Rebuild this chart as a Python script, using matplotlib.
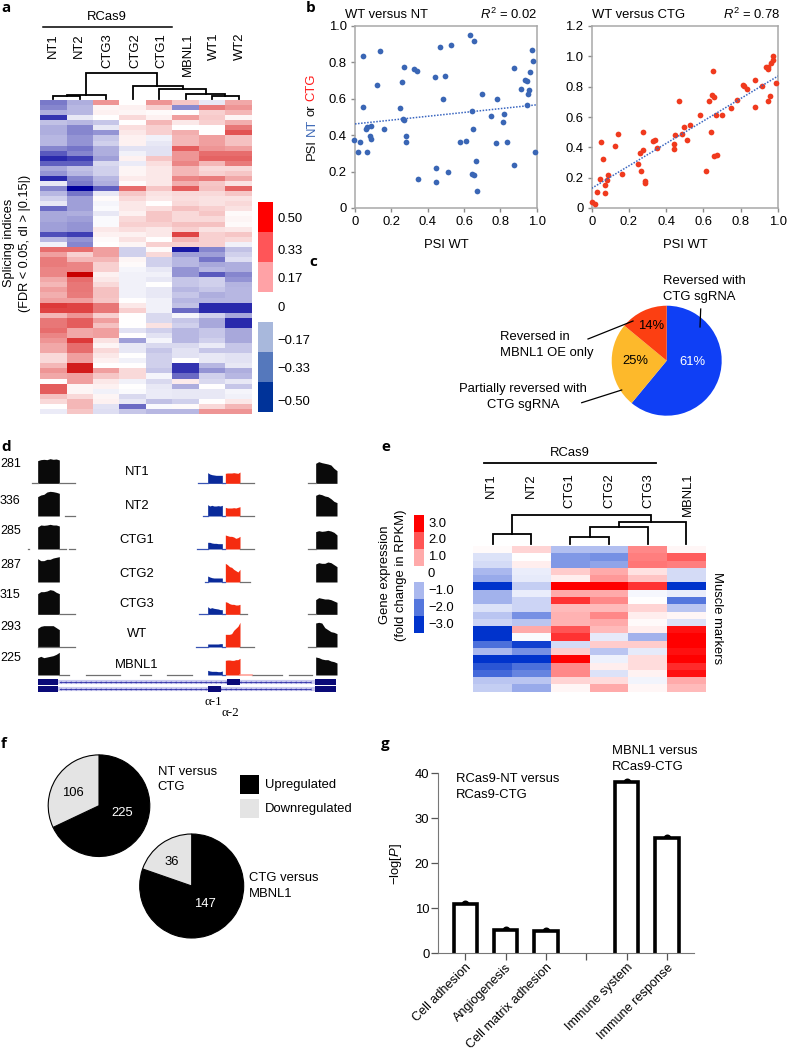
import numpy as np
import matplotlib
matplotlib.use("Agg")
import matplotlib.pyplot as plt
from matplotlib.colors import LinearSegmentedColormap, ListedColormap

W = 787
H = 1050
plt.rcParams["font.family"] = ["Liberation Sans", "DejaVu Sans"]
plt.rcParams["mathtext.fontset"] = "custom"
plt.rcParams["mathtext.rm"] = "Liberation Sans"
plt.rcParams["mathtext.it"] = "Liberation Sans:italic"
FS = 9.4

# panel a
SPLICE_COLS = ["NT1", "NT2", "CTG3", "CTG2", "CTG1", "MBNL1", "WT1", "WT2"]
SPLICE = [
    [-.27, -.17, .22, .0, .22, .12, -.05, .18],
    [-.25, -.15, .02, .03, .1, -.24, .27, .22],
    [-.17, -.15, .03, .02, .01, .0, .1, .15],
    [-.4, -.05, .0, .08, .03, .2, .11, .02],
    [-.13, -.15, -.12, .0, .15, .05, .1, .17],
    [-.17, -.25, -.05, .07, .1, .0, .0, .28],
    [-.17, -.25, -.22, .05, .1, .17, .0, .35],
    [-.15, -.22, -.12, .03, -.03, .15, .2, .13],
    [-.15, -.22, -.1, .03, -.05, .15, .2, .13],
    [-.25, -.28, -.17, -.06, -.06, .33, .22, .2],
    [-.33, -.25, -.17, -.03, -.06, .22, .3, .3],
    [-.42, -.38, -.2, .03, .12, .22, .32, .32],
    [-.32, -.32, -.08, -.04, .07, .25, .15, .27],
    [-.18, -.13, -.1, .02, .05, .15, .08, .08],
    [-.22, -.15, -.1, .02, .05, .15, .1, .12],
    [-.42, -.25, -.15, .04, .05, .25, .27, .18],
    [-.05, -.27, -.17, .01, .05, .17, .12, .06],
    [-.25, -.5, -.32, .3, .12, .33, .13, .32],
    [-.15, -.28, -.05, .12, .06, .08, .08, .12],
    [-.1, -.2, .01, .08, .05, .07, .06, .06],
    [-.05, -.2, -.02, .05, .0, .08, .06, .08],
    [-.3, -.2, -.01, .05, .07, .13, .1, .06],
    [-.18, -.17, -.05, .03, .12, .08, .12, .01],
    [-.18, -.2, -.01, .08, .12, .08, .08, .02],
    [-.2, -.22, -.01, .1, .1, .13, .13, .01],
    [-.2, -.22, .05, .07, .05, .1, .06, .05],
    [-.35, -.38, .03, .03, .05, .38, .1, .12],
    [-.15, -.22, .01, .06, .0, .15, .1, .08],
    [-.03, -.25, .0, .02, .1, .1, .1, -.03],
    [.3, .3, .2, -.1, .01, -.45, -.25, -.13],
    [.2, .1, .2, -.1, .08, -.2, -.2, -.1],
    [.27, .15, .15, .02, -.1, -.15, -.28, -.07],
    [.27, .25, .1, .01, -.1, -.15, -.18, -.17],
    [.25, .25, .1, -.02, -.05, -.22, -.15, -.17],
    [.25, .5, .03, -.03, -.03, -.22, -.33, -.25],
    [.18, .3, .05, -.03, -.05, -.12, -.1, -.22],
    [.15, .28, .08, -.03, .0, -.12, -.1, -.16],
    [.2, .28, .13, -.03, -.05, -.15, -.12, -.15],
    [.17, .27, .13, -.03, -.05, -.12, -.17, -.15],
    [.2, .2, .12, .0, -.03, -.15, -.15, -.15],
    [.4, .38, .28, .05, -.03, -.13, -.42, -.42],
    [.38, .38, .28, .1, -.03, -.3, -.42, -.42],
    [.15, .22, .1, .0, -.08, -.02, -.1, -.18],
    [.28, .33, .2, .0, -.08, -.12, -.18, -.42],
    [.28, .33, .13, .0, .06, -.1, -.18, -.42],
    [.3, .18, .2, -.06, -.1, -.15, -.12, -.18],
    [.25, .18, .2, .0, -.06, -.15, -.12, -.18],
    [.22, .4, .06, -.2, -.02, -.15, -.1, -.18],
    [.18, .3, .02, -.05, -.08, -.08, -.04, -.12],
    [.18, .3, .08, -.05, -.12, -.06, -.12, -.12],
    [.08, .2, .05, .0, -.1, -.06, -.05, -.06],
    [.08, .2, .03, -.03, -.1, .0, -.05, -.06],
    [.15, .45, .0, .0, -.1, -.4, -.15, -.05],
    [.22, .45, .2, .08, -.12, -.4, -.22, -.17],
    [.18, .2, .12, .08, -.02, -.3, -.1, -.15],
    [.0, .2, .05, -.03, -.08, .04, -.08, -.05],
    [.33, .02, .03, .0, -.05, -.17, .0, -.12],
    [.33, .02, -.03, -.01, -.04, -.05, -.05, -.02],
    [.13, .08, .02, -.08, -.04, -.05, -.05, -.03],
    [.08, .15, .03, -.05, -.13, -.1, .0, .05],
    [.0, .15, -.06, -.3, -.01, .01, .08, .15],
    [-.04, .12, -.07, -.12, -.15, -.15, .22, .22],
]
SPLICE_LEVEL_LABELS = ["0.50", "0.33", "0.17", "0", "\u22120.17", "\u22120.33", "\u22120.50"]
SPLICE_LEVEL_COLORS = ["#ff0000", "#ff5558", "#ffa2a6", "#ffffff", "#a8b8dc", "#5578bc", "#003399"]
# (left x, right x, left height, right height, top)
SPLICE_TREE = [
    (.5, 1.5, 1.3, 1.3, 4), (1.0, 2.5, 4, 1.3, 5.3), (6.5, 7.5, 1.3, 1.3, 4),
    (5.5, 7.0, 1.3, 4, 6.3), (4.5, 6.25, 1.3, 6.3, 10.7), (3.5, 5.4, 1.3, 10.7, 13.7),
    (1.73, 4.4, 5.3, 13.7, 27),
]

# panel b
NT_X = [-.004, .015, .028, .068, .045, .042, .06, .068, .086, .08, .086, .121, .14, .158, .246, .259,
        .272, .264, .27, .283, .283, .323, .339, .349, .442, .444, .446, .468, .486, .495, .514, .53,
        .58, .609, .633, .646, .642, .653, .653, .651, .666, .67, .70, .75, .782, .778, .813, .822,
        .837, .877, .875, .916, .936, .945, .949, .95, .956, .963, .974, .978, .991]
NT_Y = [.373, .31, .362, .305, .835, .554, .435, .446, .45, .395, .378, .678, .861, .435, .548, .695,
        .773, .488, .483, .395, .362, .762, .751, .161, .722, .221, .144, .887, .601, .726, .196, .898,
        .362, .367, .949, .534, .186, .181, .918, .435, .258, .093, .627, .503, .601, .356, .472, .514,
        .362, .768, .238, .654, .706, .70, .565, .627, .649, .748, .870, .81, .305]
NT_FIT = [.462, .567]
CTG_X = [0, .018, .03, .05, .046, .0625, .071, .071, .0875, .084, .125, .143, .16, .248, .26, .273,
         .273, .266, .286, .286, .327, .341, .35, .443, .443, .446, .468, .486, .496, .514, .53, .58,
         .611, .632, .641, .646, .654, .652, .654, .67, .666, .70, .75, .779, .8125, .82, .836, .875,
         .877, .914, .934, .946, .948, .948, .955, .96, .973, .975, .9875]
CTG_Y = [.037, .024, .107, .432, .193, .325, .154, .10, .219, .186, .406, .487, .226, .289, .362, .382,
         .50, .243, .18, .164, .443, .45, .395, .423, .388, .482, .704, .487, .533, .45, .544, .612,
         .243, .706, .50, .743, .732, .90, .34, .351, .612, .612, .662, .713, .814, .803, .787, .669,
         .844, .807, .93, .932, .917, .706, .739, .954, 1.0, .974, .825]
CTG_FIT = [.13, .87]

# panel c
CLASS_SHARE = [61, 25, 14]
CLASS_COLORS = ["#0f3ff5", "#fdb92b", "#fc3f12"]

# panel d, read heights of the coverage tracks
TRACK_NAMES = ["NT1", "NT2", "CTG1", "CTG2", "CTG3", "WT", "MBNL1"]
TRACK_SCALE = [281, 336, 285, 287, 315, 293, 225]
EXON_LEFT = [
    [68, 71, 72, 71, 74, 72, 73, 70], [58, 63, 65, 72, 74, 73, 71, 68], [66, 72, 71, 72, 74, 72, 72, 69],
    [70, 64, 64, 68, 68, 72, 74, 76], [62, 68, 68, 70, 74, 72, 66, 62], [56, 62, 64, 64, 64, 64, 58, 52],
    [52, 56, 52, 54, 56, 58, 62, 68],
]
EXON_RIGHT = [
    [60, 65, 62, 60, 58, 55, 45, 38], [62, 66, 64, 60, 58, 52, 44, 40], [52, 55, 53, 54, 56, 54, 50, 42],
    [54, 58, 56, 56, 60, 58, 52, 46], [44, 50, 48, 46, 46, 44, 40, 36], [72, 74, 72, 58, 52, 46, 44, 40],
    [54, 52, 48, 46, 46, 42, 40, 36],
]
EXON_ALPHA1 = [
    [32, 28, 26, 25, 24, 24, 24, 24], [34, 30, 32, 30, 30, 31, 30, 32], [20, 20, 18, 17, 17, 16, 16, 16],
    [18, 15, 13, 12, 12, 12, 12, 12], [23, 18, 20, 18, 17, 16, 14, 14], [9, 9, 9, 9, 9, 9, 10, 10],
    [14, 12, 11, 11, 11, 10, 10, 12],
]
EXON_ALPHA2 = [
    [30, 31, 31, 31, 32, 31, 30, 34], [26, 24, 24, 24, 25, 24, 26, 28], [42, 40, 38, 38, 36, 32, 34, 38],
    [56, 52, 46, 44, 38, 34, 30, 38], [38, 36, 32, 30, 30, 28, 28, 30], [38, 38, 38, 40, 50, 56, 62, 74],
    [44, 45, 45, 44, 44, 46, 46, 50],
]

# panel e
EXPR_COLS = ["NT1", "NT2", "CTG1", "CTG2", "CTG3", "MBNL1"]
EXPR = [
    [.05, .5, -.9, -.9, 1.4, .1],
    [-.4, .02, -1.5, -1.6, 1.5, 1.9],
    [-.5, .2, -1.5, -1.3, 1.6, 1.5],
    [-1.0, -.25, .6, 1.0, .35, -.5],
    [-1.2, -.3, .2, 1.2, .7, -.5],
    [-3, -.7, 3, 3, 2.4, -3],
    [-1.1, -.25, 1.0, 1.0, -.1, -.25],
    [-1.1, -.6, 2.4, 1.4, .02, -2],
    [-.4, -.6, .8, .8, .5, -.8],
    [-.8, -1.6, .9, 1.4, .2, .1],
    [-.6, -.8, .9, 1.0, .05, -.4],
    [-3, 1.0, 2.0, .8, .2, 2.8],
    [-3, -.05, 2.4, -.3, -1.1, 3],
    [-2.1, -2.8, -.5, .6, .6, 3],
    [-1.0, -1.6, .6, -.8, -.3, 2.8],
    [-3, -3, 3, -.2, .4, 3],
    [-2.5, -2.1, 1.4, .2, .4, 2.5],
    [-2.2, -1.8, 1.4, -.4, .15, 2.8],
    [-.8, -.8, .5, .4, -.15, 1.0],
    [-.7, -1.2, .1, 1.0, .1, .8],
]
EXPR_LEVEL_LABELS = ["3.0", "2.0", "1.0", "0", "\u22121.0", "\u22122.0", "\u22123.0"]
EXPR_LEVEL_COLORS = ["#ff0000", "#ff5555", "#ffaaaa", "#ffffff", "#aab8ee", "#5577dd", "#0033cc"]
EXPR_TREE = [
    (.5, 1.5, 2, 2, 12), (2.5, 3.5, 2, 2, 9.3), (3.0, 4.5, 9.3, 2, 18.7),
    (3.75, 5.5, 18.7, 2, 24), (1.0, 4.6, 12, 24, 31.3),
]

# panel f
REG_LABELS = ["Upregulated", "Downregulated"]
REG_COLORS = ["#000000", "#e4e4e4"]
NT_VS_CTG = [225, 106]
CTG_VS_MBNL1 = [147, 36]

# panel g
TERMS = ["Cell adhesion", "Angiogenesis", "Cell matrix adhesion", "", "Immune system", "Immune response"]
LOG_P = [10.9, 5.1, 5.0, 0, 38.0, 25.7]


def px_axes(x0, y0, x1, y1):
    return fig.add_axes([x0 / W, 1 - y1 / H, (x1 - x0) / W, (y1 - y0) / H])


def draw_tree(box, n_cols, links):
    ax = px_axes(*box)
    ax.set_xlim(0, n_cols)
    ax.set_ylim(0, box[3] - box[1])
    ax.axis("off")
    for xl, xr, yl, yr, top in links:
        ax.plot([xl, xl, xr, xr], [yl, top, top, yr], color="black", lw=1.3, solid_joinstyle="miter")


def draw_levels(box, colors):
    ax = px_axes(*box)
    ax.pcolormesh(np.arange(len(colors))[:, None], cmap=ListedColormap(colors))
    ax.invert_yaxis()
    ax.axis("off")


def draw_scatter(box, xs, ys, fit, color, ymax, yticks):
    ax = px_axes(*box)
    ax.scatter(xs, ys, s=17, color=color, linewidths=0, clip_on=False, zorder=3)
    ax.plot([0, 1], fit, color="#3a66c0", lw=1.1, ls=(0, (1, 1)), zorder=4)
    ax.set_xlim(0, 1)
    ax.set_ylim(0, ymax)
    ax.set_xticks([0, .2, .4, .6, .8, 1.0], ["0", "0.2", "0.4", "0.6", "0.8", "1.0"])
    ax.set_yticks(yticks, ["0" if t == 0 else f"{t:.1f}" for t in yticks])
    ax.tick_params(labelsize=FS, length=3, width=1, color="#8c8c8c", pad=3)
    for s in ax.spines.values():
        s.set_color("#a8a8a8")
        s.set_linewidth(1.1)
    return ax


def draw_pie(cx, cy, r, values, colors, edge=None):
    ax = px_axes(cx - r, cy - r, cx + r, cy + r)
    wedge = {"linewidth": 0.8, "edgecolor": edge} if edge else {"linewidth": 0}
    ax.pie(values, colors=colors, startangle=90, counterclock=False, radius=1, wedgeprops=wedge)
    ax.set_xlim(-1, 1)
    ax.set_ylim(-1, 1)
    for p in ax.patches:
        p.set_clip_on(False)


fig = plt.figure(figsize=(W / 100, H / 100), dpi=100)

# a
ax = px_axes(40, 100, 252, 414)
cmap_a = LinearSegmentedColormap.from_list(
    "splice", [(0, "#00009c"), (.1, "#3434b0"), (.3, "#a0a0d8"), (.5, "#ffffff"),
               (.7, "#f0a0a0"), (.9, "#dd3a3a"), (1, "#c80000")])
ax.pcolormesh(np.array(SPLICE), cmap=cmap_a, vmin=-.5, vmax=.5)
ax.invert_yaxis()
ax.axis("off")
draw_tree((40, 72, 252, 100), len(SPLICE_COLS), SPLICE_TREE)
draw_levels((258, 202, 273, 412), SPLICE_LEVEL_COLORS)

# b
ax_nt = draw_scatter((355, 26, 536.7, 208), NT_X, NT_Y, NT_FIT, "#3a66b5", 1.0, [0, .2, .4, .6, .8, 1.0])
ax_ctg = draw_scatter((591.7, 26, 778, 208), CTG_X, CTG_Y, CTG_FIT, "#f03a1e", 1.2,
                      [0, .2, .4, .6, .8, 1.0, 1.2])

# c
draw_pie(666.7, 360.7, 55, CLASS_SHARE, CLASS_COLORS)

# d
ax_d = px_axes(0, 430, 380, 730)
ax_d.set_xlim(0, 1140)
ax_d.set_ylim(900, 0)
ax_d.axis("off")
track_base = [160, 258, 357, 456, 553, 651, 735]
gray_lines = [
    [(95, 113), (178, 225), (720, 762), (925, 947)],
    [(195, 225), (720, 762)],
    [(83, 88), (178, 198), (207, 225), (720, 762), (925, 947)],
    [(720, 750)],
    [(178, 225), (720, 740), (925, 947)],
    [(113, 225), (720, 762), (925, 947)],
    [(178, 208), (257, 360), (420, 452), (502, 575), (757, 847), (867, 937)],
]
blue_start = [593, 610, 590, 615, 597, 587, 623]
exons = [(113, 178, EXON_LEFT, "#0a0a0a"), (623, 667, EXON_ALPHA1, "#0a2a9a"),
         (676, 720, EXON_ALPHA2, "#f52c10"), (947, 1011, EXON_RIGHT, "#0a0a0a")]
for i, base in enumerate(track_base):
    for a, b in gray_lines[i]:
        ax_d.plot([a, b], [base, base], color="#707070", lw=.9)
    ax_d.plot([blue_start[i], 623], [base, base], color="#3a55b5", lw=.9)
    ax_d.plot([667, 676], [base, base], color="#3a55b5", lw=.9)
    for x0, x1, heights, col in exons:
        h = np.array(heights[i], dtype=float)
        xs = np.linspace(x0, x1, len(h))
        ax_d.fill_between(xs, base - h, base, color=col, lw=0)
ax_d.plot([720, 757], [735, 735], color="#ff9a90", lw=1.1)
# gene model
for row, small in ((755, (680, 720)), (776, (623, 663))):
    ax_d.plot([175, 945], [row, row], color="#c9c9ee", lw=3, solid_capstyle="butt", zorder=1)
    ax_d.plot(np.arange(180, 945, 15), [row] * 51, color="#3333aa", lw=.6, marker="<", ms=1.6, mew=0, zorder=2)
    for a, b in ((115, 175), (945, 1008), small):
        ax_d.fill_between([a, b], row - 9, row + 9, color="#0a0a78", lw=0, zorder=3)

# e
ax = px_axes(473.3, 546, 705.7, 691.7)
cmap_e = LinearSegmentedColormap.from_list(
    "expr", [(0, "#0033cc"), (1 / 6, "#5577dd"), (2 / 6, "#aab8ee"), (.5, "#ffffff"),
             (4 / 6, "#ffaaaa"), (5 / 6, "#ff5555"), (1, "#ff0000")])
ax.pcolormesh(np.array(EXPR), cmap=cmap_e, vmin=-3, vmax=3)
ax.invert_yaxis()
ax.axis("off")
draw_tree((473.3, 510, 705.7, 546), len(EXPR_COLS), EXPR_TREE)
draw_levels((414, 515, 423.7, 633), EXPR_LEVEL_COLORS)

# f
draw_pie(99, 805.7, 50.8, NT_VS_CTG, REG_COLORS, "black")
draw_pie(191.7, 886, 52, CTG_VS_MBNL1, REG_COLORS, "black")

# g
ax_g = px_axes(438.3, 773.3, 694.3, 953)
pos = np.arange(len(LOG_P))
vals = np.array(LOG_P)
shown = vals > 0
# bars start under the axis so that their lower edge is clipped away
ax_g.bar(pos[shown], vals[shown] + 3, bottom=-3, width=.58, facecolor="white", edgecolor="black", linewidth=2.6)
ax_g.scatter(pos[shown], vals[shown], s=33, color="black", linewidths=0, zorder=1, clip_on=False)
for patch in ax_g.patches:
    patch.set_zorder(2)
ax_g.set_xlim(-.67, 5.68)
ax_g.set_ylim(0, 40)
ax_g.set_yticks([0, 10, 20, 30, 40])
ax_g.set_xticks(pos)
ax_g.set_xticklabels(TERMS, rotation=45, ha="right", va="top", rotation_mode="anchor")
ax_g.tick_params(axis="y", labelsize=FS, length=5, width=.9, color="#555555", pad=1.5)
ax_g.tick_params(axis="x", labelsize=9.1, length=5, width=.9, color="#555555", pad=1)
ax_g.spines["top"].set_visible(False)
ax_g.spines["right"].set_visible(False)
ax_g.spines["left"].set_color("#777777")
ax_g.spines["bottom"].set_color("#777777")

# texts and rules drawn in picture pixels
ov = fig.add_axes([0, 0, 1, 1], zorder=10)
ov.set_xlim(0, W)
ov.set_ylim(H, 0)
ov.axis("off")
ov.patch.set_alpha(0)


def txt(x, y, s, **kw):
    kw.setdefault("fontsize", FS)
    kw.setdefault("va", "center")
    kw.setdefault("ha", "left")
    return ov.text(x, y, s, **kw)


for x, y, s in [(1, 8, "a"), (306, 8, "b"), (309, 262, "c"), (1, 447, "d"), (381, 447, "e"),
                (1, 744, "f"), (381, 744, "g")]:
    txt(x, y, s, fontsize=11, fontweight="bold", family="Open Sans")

# a texts
txt(107, 17, "RCas9", ha="center")
ov.plot([43, 172], [27, 27], color="black", lw=1.1)
for x, s in zip([52.7, 78.5, 107.3, 135.7, 161.7, 187.7, 214.3, 240], SPLICE_COLS):
    txt(x, 33, s, rotation=90, ha="center", va="top")
txt(17, 243, "Splicing indices\n(FDR < 0.05, dI > |0.15|)", rotation=90, ha="center", fontsize=9.2, linespacing=1.35)
for y, s in zip([219, 251, 279, 308, 341, 369, 402], SPLICE_LEVEL_LABELS):
    txt(278 if not s.startswith("\u2212") else 277, y, s)

# b texts
txt(345, 14.7, "WT versus NT")
txt(537, 14.5, r"$\mathit{R}^{2}$ = 0.02", ha="right")
txt(591.7, 14.7, "WT versus CTG")
txt(780, 14.5, r"$\mathit{R}^{2}$ = 0.78", ha="right")
txt(446, 245, "PSI WT", ha="center")
txt(685, 245, "PSI WT", ha="center")
y_cur = 160
fig.canvas.draw()
rend = fig.canvas.get_renderer()
for s, col in [("PSI", "#111111"), ("NT", "#3a66b5"), ("or", "#111111"), ("CTG", "#ff1a1a")]:
    t = txt(311.5, y_cur, s, rotation=90, ha="center", va="bottom", color=col)
    y_cur -= t.get_window_extent(rend).height + 3

# c texts
txt(663, 280.7, "Reversed with")
txt(663, 296.7, "CTG sgRNA")
txt(500, 337, "Reversed in")
txt(500, 353, "MBNL1 OE only")
txt(523, 389, "Partially reversed with", ha="center")
txt(523, 405, "CTG sgRNA", ha="center")
txt(692.7, 362, "61%", ha="center", color="white")
txt(635, 361, "25%", ha="center")
txt(650.7, 326, "14%", ha="center")
ov.plot([700.7, 700], [309, 327], color="black", lw=.9)
ov.plot([588, 633], [339, 321], color="black", lw=.9)
ov.plot([581.7, 621.7], [402.7, 390], color="black", lw=.9)

# d texts
for y, v in zip([464, 500.7, 531, 565, 595, 626.7, 658.3], TRACK_SCALE):
    txt(0, y, str(v), fontsize=9)
for y, s in zip([472, 505.7, 540.3, 574, 603.7, 634.3, 665], TRACK_NAMES):
    txt(136.7, y, s, ha="center", fontsize=9.4)
txt(213.3, 702, "\u03b1-1", ha="center", fontsize=9.4, family="Liberation Serif")
txt(230.7, 713, "\u03b1-2", ha="center", fontsize=9.4, family="Liberation Serif")

# e texts
txt(570, 452.7, "RCas9", ha="center")
ov.plot([484, 656], [463, 463], color="black", lw=1.3)
for x, s in zip([491, 531, 569, 609, 648, 688], EXPR_COLS):
    txt(x, 473, s, rotation=90, ha="center", va="top")
txt(393, 575, "Gene expression\n(fold change in RPKM)", rotation=90, ha="center", linespacing=1.4, fontsize=9.4)
for y, s in zip([523.7, 540.3, 557, 574, 591, 608, 625], EXPR_LEVEL_LABELS):
    txt(428, y, s)
txt(717, 618, "Muscle markers", rotation=-90, ha="center")

# f texts
txt(73.3, 793, "106", ha="center")
txt(122.3, 812.7, "225", ha="center", color="white")
txt(171.7, 861.7, "36", ha="center")
txt(205, 904, "147", ha="center", color="white")
txt(157.7, 771.7, "NT versus")
txt(157.7, 787, "CTG")
txt(249, 878, "CTG versus")
txt(249, 893.7, "MBNL1")
for y, col, s in zip([784.7, 808.7], REG_COLORS, REG_LABELS):
    ov.fill_between([240, 259], y - 9.5, y + 9.5, color=col, lw=0)
    txt(265, y, s)

# g texts
txt(456, 779, "RCas9-NT versus")
txt(456, 795, "RCas9-CTG")
txt(611.7, 750.7, "MBNL1 versus")
txt(611.7, 766.7, "RCas9-CTG")
txt(396, 864, r"$-$log[$\mathit{P}$]", rotation=90, ha="center")

fig.savefig("out.png", dpi=100)
